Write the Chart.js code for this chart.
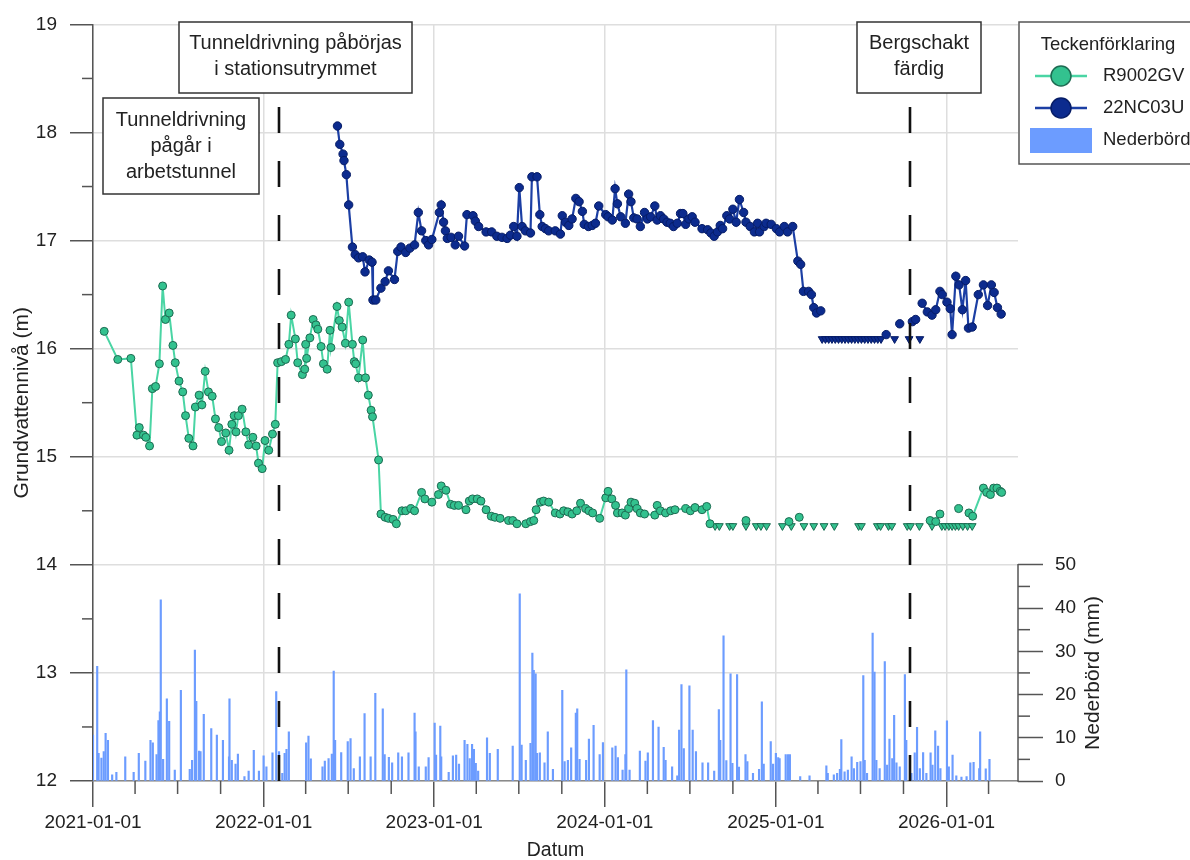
<!DOCTYPE html>
<html><head><meta charset="utf-8">
<script src="https://cdn.jsdelivr.net/npm/chart.js@4/dist/chart.umd.min.js"></script>
<style>html,body{margin:0;padding:0;background:#fff;}#wrap{width:1190px;height:860px;position:relative;}</style>
</head><body><div id="wrap"><canvas id="c"></canvas></div>
<script>
const r9002Dates = ['2021-01-25','2021-02-23','2021-03-23','2021-04-05','2021-04-10','2021-04-19','2021-04-24','2021-05-02','2021-05-08','2021-05-15','2021-05-23','2021-05-30','2021-06-05','2021-06-13','2021-06-21','2021-06-26','2021-07-04','2021-07-12','2021-07-18','2021-07-25','2021-08-03','2021-08-08','2021-08-16','2021-08-22','2021-08-29','2021-09-05','2021-09-13','2021-09-20','2021-09-27','2021-10-03','2021-10-12','2021-10-19','2021-10-25','2021-10-30','2021-11-03','2021-11-08','2021-11-16','2021-11-24','2021-11-30','2021-12-09','2021-12-16','2021-12-21','2021-12-29','2022-01-04','2022-01-12','2022-01-20','2022-01-26','2022-01-31','2022-02-08','2022-02-17','2022-02-24','2022-03-01','2022-03-10','2022-03-15','2022-03-25','2022-03-30','2022-04-01','2022-04-03','2022-04-10','2022-04-17','2022-04-23','2022-04-27','2022-05-04','2022-05-09','2022-05-17','2022-05-23','2022-05-25','2022-06-07','2022-06-12','2022-06-18','2022-06-25','2022-07-02','2022-07-10','2022-07-14','2022-07-17','2022-07-23','2022-08-01','2022-08-07','2022-08-13','2022-08-19','2022-08-22','2022-09-04','2022-09-09','2022-09-18','2022-09-25','2022-10-05','2022-10-12','2022-10-24','2022-11-01','2022-11-12','2022-11-20','2022-12-05','2022-12-12','2022-12-27','2023-01-10','2023-01-16','2023-01-26','2023-02-05','2023-02-13','2023-02-22','2023-03-10','2023-03-17','2023-03-24','2023-04-03','2023-04-11','2023-04-22','2023-05-03','2023-05-11','2023-05-22','2023-06-09','2023-06-18','2023-06-27','2023-07-16','2023-07-26','2023-08-02','2023-08-07','2023-08-16','2023-08-23','2023-09-03','2023-09-17','2023-09-27','2023-10-05','2023-10-14','2023-10-23','2023-11-02','2023-11-10','2023-11-21','2023-11-28','2023-12-06','2023-12-21','2024-01-03','2024-01-08','2024-01-16','2024-01-24','2024-01-28','2024-02-07','2024-02-14','2024-02-21','2024-02-26','2024-03-05','2024-03-10','2024-03-17','2024-03-26','2024-04-17','2024-04-22','2024-04-29','2024-05-10','2024-05-21','2024-05-30','2024-06-22','2024-07-02','2024-07-12','2024-07-27','2024-08-06','2024-08-13','2024-10-29','2025-01-29','2025-02-20','2025-11-27','2025-12-09','2025-12-18','2026-01-27','2026-02-18','2026-02-26','2026-03-21','2026-03-28','2026-04-05','2026-04-12','2026-04-19','2026-04-26','2026-04-29'];
const r9002Levels = [16.16,15.90,15.91,15.20,15.27,15.20,15.18,15.10,15.63,15.65,15.86,16.58,16.27,16.33,16.03,15.87,15.70,15.60,15.38,15.17,15.10,15.46,15.57,15.48,15.79,15.60,15.56,15.35,15.27,15.14,15.22,15.06,15.30,15.38,15.23,15.38,15.44,15.23,15.11,15.18,15.10,14.94,14.89,15.15,15.06,15.21,15.30,15.87,15.88,15.90,16.04,16.31,16.09,15.87,15.76,15.81,16.04,15.91,16.10,16.27,16.22,16.18,16.02,15.86,15.81,16.17,16.01,16.39,16.26,16.20,16.05,16.43,16.04,15.88,15.86,15.73,16.08,15.73,15.57,15.43,15.37,14.97,14.47,14.44,14.43,14.42,14.38,14.50,14.50,14.52,14.50,14.67,14.61,14.58,14.65,14.73,14.69,14.56,14.55,14.55,14.51,14.59,14.61,14.61,14.59,14.51,14.45,14.44,14.43,14.41,14.41,14.38,14.38,14.40,14.41,14.51,14.58,14.59,14.58,14.48,14.47,14.50,14.49,14.47,14.50,14.57,14.52,14.50,14.48,14.43,14.62,14.68,14.61,14.55,14.48,14.48,14.46,14.52,14.58,14.57,14.52,14.48,14.47,14.46,14.55,14.50,14.48,14.50,14.51,14.52,14.50,14.53,14.51,14.54,14.38,14.41,14.40,14.44,14.41,14.40,14.47,14.52,14.48,14.45,14.71,14.67,14.65,14.71,14.71,14.68,14.67];
const r9002LowDates = ['2024-08-24','2024-09-02','2024-09-24','2024-10-01','2024-10-29','2024-11-20','2024-11-30','2024-12-12','2025-01-15','2025-02-03','2025-03-02','2025-03-23','2025-04-14','2025-05-06','2025-06-27','2025-07-03','2025-08-06','2025-08-13','2025-08-30','2025-09-06','2025-10-09','2025-10-16','2025-11-04','2025-12-01','2025-12-22','2025-12-29','2026-01-06','2026-01-13','2026-01-20','2026-01-27','2026-02-05','2026-02-15','2026-02-25'];
const r9002LowLevel = 14.36;

const nc03uDates = ['2022-06-08','2022-06-13','2022-06-20','2022-06-22','2022-06-27','2022-07-02','2022-07-10','2022-07-16','2022-07-23','2022-08-01','2022-08-06','2022-08-15','2022-08-21','2022-08-23','2022-08-29','2022-09-09','2022-09-18','2022-09-25','2022-10-08','2022-10-15','2022-10-22','2022-11-01','2022-11-10','2022-11-20','2022-11-28','2022-12-05','2022-12-14','2022-12-20','2022-12-27','2023-01-12','2023-01-16','2023-01-21','2023-01-25','2023-01-29','2023-02-06','2023-02-15','2023-02-22','2023-03-07','2023-03-12','2023-03-25','2023-03-30','2023-04-06','2023-04-22','2023-05-04','2023-05-15','2023-05-26','2023-06-06','2023-06-13','2023-06-20','2023-06-27','2023-07-02','2023-07-08','2023-07-15','2023-07-26','2023-07-29','2023-08-09','2023-08-15','2023-08-20','2023-08-27','2023-09-03','2023-09-17','2023-09-28','2023-10-02','2023-10-09','2023-10-16','2023-10-23','2023-10-31','2023-11-07','2023-11-14','2023-11-18','2023-11-27','2023-12-05','2023-12-12','2023-12-19','2024-01-03','2024-01-08','2024-01-17','2024-01-23','2024-01-28','2024-02-04','2024-02-14','2024-02-21','2024-02-26','2024-03-03','2024-03-10','2024-03-17','2024-03-26','2024-04-01','2024-04-08','2024-04-17','2024-04-22','2024-04-29','2024-05-06','2024-05-13','2024-05-20','2024-05-27','2024-06-04','2024-06-11','2024-06-16','2024-06-22','2024-06-29','2024-07-06','2024-07-12','2024-07-27','2024-08-08','2024-08-15','2024-08-22','2024-08-29','2024-09-04','2024-09-09','2024-09-18','2024-09-24','2024-10-01','2024-10-08','2024-10-15','2024-10-24','2024-10-29','2024-11-07','2024-11-16','2024-11-23','2024-11-27','2024-12-07','2024-12-11','2024-12-22','2025-01-02','2025-01-09','2025-01-19','2025-01-26','2025-02-06','2025-02-17','2025-02-23','2025-03-01','2025-03-12','2025-03-18','2025-03-23','2025-03-29','2025-04-07','2025-08-25','2025-09-23','2025-10-20','2025-10-27','2025-11-10','2025-11-21','2025-12-01','2025-12-09','2025-12-18','2025-12-23','2026-01-02','2026-01-09','2026-01-13','2026-01-21','2026-01-28','2026-02-04','2026-02-11','2026-02-17','2026-02-25','2026-03-10','2026-03-21','2026-03-30','2026-04-07','2026-04-13','2026-04-20','2026-04-28'];
const nc03uLevels = [18.06,17.89,17.80,17.74,17.61,17.33,16.94,16.87,16.84,16.85,16.71,16.82,16.80,16.45,16.45,16.56,16.62,16.72,16.64,16.90,16.94,16.89,16.93,16.96,17.26,17.09,17.00,16.96,17.01,17.26,17.33,17.17,17.09,17.02,17.03,16.96,17.04,16.95,17.24,17.23,17.18,17.13,17.08,17.08,17.04,17.03,17.02,17.05,17.13,17.04,17.49,17.13,17.09,17.07,17.59,17.59,17.24,17.13,17.11,17.09,17.09,17.06,17.23,17.17,17.14,17.20,17.39,17.36,17.27,17.15,17.13,17.14,17.16,17.32,17.24,17.22,17.19,17.48,17.34,17.22,17.16,17.43,17.36,17.21,17.20,17.13,17.26,17.20,17.22,17.32,17.19,17.23,17.20,17.17,17.16,17.13,17.16,17.25,17.25,17.15,17.20,17.22,17.17,17.11,17.10,17.07,17.04,17.08,17.14,17.11,17.23,17.20,17.29,17.17,17.38,17.26,17.17,17.13,17.08,17.16,17.08,17.13,17.16,17.15,17.11,17.08,17.13,17.08,17.13,16.81,16.78,16.53,16.53,16.50,16.38,16.33,16.35,16.13,16.23,16.25,16.27,16.42,16.34,16.31,16.36,16.53,16.50,16.43,16.37,16.13,16.67,16.59,16.36,16.63,16.19,16.20,16.50,16.59,16.40,16.59,16.52,16.38,16.32];
const nc03uLowDates = ['2025-04-10','2025-04-17','2025-04-24','2025-05-01','2025-05-08','2025-05-15','2025-05-22','2025-05-29','2025-06-05','2025-06-12','2025-06-19','2025-06-26','2025-07-03','2025-07-10','2025-07-17','2025-07-24','2025-07-31','2025-08-07','2025-08-14','2025-09-12','2025-10-13','2025-11-05'];
const nc03uLowLevel = 16.09;

const precipDates = ['2021-01-01','2021-01-10','2021-01-13','2021-01-19','2021-01-24','2021-01-28','2021-02-02','2021-02-11','2021-02-20','2021-03-11','2021-03-29','2021-04-09','2021-04-23','2021-05-04','2021-05-09','2021-05-17','2021-05-21','2021-05-24','2021-05-26','2021-05-31','2021-06-08','2021-06-13','2021-06-25','2021-07-08','2021-07-27','2021-08-01','2021-08-07','2021-08-10','2021-08-16','2021-08-19','2021-08-26','2021-09-11','2021-09-23','2021-10-06','2021-10-19','2021-10-20','2021-10-25','2021-11-02','2021-11-07','2021-11-21','2021-11-30','2021-12-11','2021-12-22','2022-01-01','2022-01-07','2022-01-20','2022-01-28','2022-02-03','2022-02-10','2022-02-15','2022-02-19','2022-02-24','2022-04-02','2022-04-07','2022-04-12','2022-05-07','2022-05-12','2022-05-20','2022-05-27','2022-05-31','2022-06-03','2022-06-16','2022-06-30','2022-07-06','2022-07-13','2022-07-26','2022-08-05','2022-08-18','2022-08-28','2022-09-13','2022-09-17','2022-09-26','2022-10-03','2022-10-16','2022-10-24','2022-11-07','2022-11-20','2022-11-22','2022-11-29','2022-12-14','2022-12-20','2023-01-02','2023-01-05','2023-01-14','2023-01-16','2023-02-01','2023-02-10','2023-02-17','2023-02-23','2023-03-07','2023-03-13','2023-03-18','2023-03-23','2023-03-27','2023-03-31','2023-04-05','2023-04-24','2023-04-30','2023-05-17','2023-06-18','2023-07-03','2023-07-07','2023-07-16','2023-07-26','2023-07-30','2023-08-02','2023-08-06','2023-08-09','2023-08-15','2023-08-25','2023-09-01','2023-09-12','2023-10-02','2023-10-07','2023-10-14','2023-10-21','2023-10-31','2023-11-03','2023-11-08','2023-11-22','2023-11-28','2023-12-08','2023-12-21','2023-12-28','2024-01-17','2024-01-24','2024-01-29','2024-02-08','2024-02-14','2024-02-16','2024-02-23','2024-03-16','2024-03-28','2024-04-02','2024-04-13','2024-04-25','2024-05-06','2024-05-10','2024-05-24','2024-06-04','2024-06-08','2024-06-13','2024-06-18','2024-06-30','2024-07-07','2024-07-14','2024-07-28','2024-08-09','2024-08-22','2024-09-01','2024-09-04','2024-09-11','2024-09-17','2024-09-26','2024-09-30','2024-10-10','2024-10-14','2024-10-28','2024-11-01','2024-11-13','2024-11-26','2024-12-02','2024-12-06','2024-12-21','2024-12-26','2025-01-01','2025-01-06','2025-01-09','2025-01-22','2025-01-27','2025-01-31','2025-02-22','2025-03-14','2025-04-19','2025-04-22','2025-05-05','2025-05-12','2025-05-18','2025-05-21','2025-05-28','2025-06-04','2025-06-12','2025-06-17','2025-06-24','2025-07-01','2025-07-07','2025-07-10','2025-07-15','2025-07-27','2025-07-31','2025-08-04','2025-08-11','2025-08-22','2025-08-27','2025-09-01','2025-09-07','2025-09-11','2025-09-16','2025-09-23','2025-10-04','2025-10-07','2025-10-18','2025-10-25','2025-10-30','2025-11-05','2025-11-12','2025-11-19','2025-11-28','2025-12-02','2025-12-08','2025-12-14','2025-12-19','2026-01-02','2026-01-06','2026-01-14','2026-01-22','2026-02-02','2026-02-13','2026-02-21','2026-02-28','2026-03-12','2026-03-14','2026-03-26','2026-04-03'];
const precipMm = [10.6,26.5,6.4,5.3,6.8,11,9.4,1.4,2.0,5.6,2.0,6.4,4.6,9.4,8.8,6.1,14,16,41.9,5.0,19,13.8,2.5,21,2.7,4.8,30.3,18.4,6.9,6.8,15.4,12.1,10.6,9.4,5.6,19,4.8,3.9,6.2,1.0,2.3,7.1,2.3,5.8,3.3,6.5,20.7,6.8,1.8,6.4,7.3,11.4,8.8,10.4,5.1,3.3,4.6,5.2,6.2,25.4,9.4,6.6,9.1,9.8,2.9,5.6,15.6,5.6,20.3,16.7,6.1,5.5,4.2,6.5,5.6,6.5,15.7,11.4,3.3,3.3,5.4,13.4,6.0,12.7,5.6,2.0,5.8,6.0,3.9,9.4,8.5,5.2,8.5,7.3,4.1,2.3,10.0,6.4,7.3,8.1,43.3,8.3,4.8,8.7,29.6,25.6,24.8,6.4,6.5,4.2,11.4,2.7,21,4.5,4.8,7.7,15.7,16.7,5.0,4.8,9.7,12.9,6.1,8.9,7.7,8.1,5.4,2.5,6.1,25.7,2.5,6.9,4.6,6.5,14,12.5,7.8,4.8,3.3,1.2,11.8,22.3,7.5,22,11.8,6.8,4.2,4.2,2.3,16.5,9.4,33.6,4.7,24.8,4.1,24.6,3.2,6.1,4.5,1.8,2.7,18.3,3.9,9.1,3.9,6.4,5.4,5.2,6.1,6.1,6.1,1.0,1.2,3.5,1.8,1.4,1.8,2.7,9.6,2.1,2.5,5.6,2.9,4.3,4.5,24.4,4.8,1.8,34.2,25.2,4.8,2.9,27.6,3.7,9.7,5.2,15.2,4.2,3.3,24.6,9.4,1.8,6.5,12.4,2.9,6.6,1.8,6.5,3.7,11.6,8.1,2.9,13.9,3.3,6.0,1.2,0.9,1.0,4.2,4.3,2.9,11.4,2.8,5.0];

const eventDates = ['2022-02-03','2025-10-14'];
const yearTicks = ['2021-01-01','2022-01-01','2023-01-01','2024-01-01','2025-01-01','2026-01-01'];
const quarterTicks = ['2021-04-01','2021-07-01','2021-10-01','2022-04-01','2022-07-01','2022-10-01','2023-04-01','2023-07-01','2023-10-01','2024-04-01','2024-07-01','2024-10-01','2025-04-01','2025-07-01','2025-10-01','2026-04-01'];
const levelTicks = [12,13,14,15,16,17,18,19];
const levelMinorTicks = [12.5,13.5,14.5,15.5,16.5,17.5,18.5];
const precipTicks = [0,10,20,30,40,50];
const precipMinorTicks = [5,15,25,35,45];

const FONT = '"Liberation Sans", Arial, Helvetica, sans-serif';
const toMs = s => { const p = s.split('-').map(Number); return Date.UTC(p[0], p[1]-1, p[2]); };
const fmt = ms => new Date(ms).toISOString().slice(0,10);

function lineData(dates, levels, lowDates) {
  const pts = dates.map((d,i)=>({x: toMs(d), y: levels[i]}));
  lowDates.forEach(d => pts.push({x: toMs(d), y: null}));
  pts.sort((a,b)=> (a.x-b.x) || ((a.y===null)-(b.y===null)));
  return pts;
}
const lowData = (dates, lvl) => dates.map(d=>({x: toMs(d), y: lvl}));

const GREEN_LINE = '#4ad5a4', GREEN_FILL = '#33c28f', GREEN_EDGE = '#1d6b52';
const BLUE_LINE = '#1c3fa4', BLUE_FILL = '#0c2b8e', BLUE_EDGE = '#061c66';
const RAIN = '#6c9cff';

const decor = {
  id: 'decor',
  afterDatasetsDraw(chart) {
    const {ctx, chartArea: ca, scales: {x}} = chart;
    ctx.save();
    ctx.strokeStyle = '#111'; ctx.lineWidth = 2.6; ctx.setLineDash([26, 28]);
    eventDates.forEach(d => {
      const px = Math.round(x.getPixelForValue(toMs(d)));
      ctx.beginPath(); ctx.moveTo(px, ca.bottom); ctx.lineTo(px, ca.top); ctx.stroke();
    });
    ctx.restore();
  },
  afterDraw(chart) {
    const {ctx, chartArea: ca, scales: {x, y, y2}} = chart;
    const seg = (x0,y0,x1,y1) => { ctx.beginPath(); ctx.moveTo(x0,y0); ctx.lineTo(x1,y1); ctx.stroke(); };
    ctx.save();
    ctx.strokeStyle = '#555'; ctx.lineWidth = 1.5;
    quarterTicks.forEach(d => { const px = x.getPixelForValue(toMs(d)); seg(px, ca.bottom, px, ca.bottom + 13); });
    levelMinorTicks.forEach(v => { const py = y.getPixelForValue(v); seg(ca.left - 11, py, ca.left, py); });
    precipMinorTicks.forEach(v => { const py = y2.getPixelForValue(v); seg(ca.right, py, ca.right + 12, py); });
    seg(ca.right, y2.getPixelForValue(0) + 0.75, ca.right, y2.getPixelForValue(50) - 0.75);

    ctx.fillStyle = '#222';
    ctx.font = '21px ' + FONT; ctx.textAlign = 'center'; ctx.textBaseline = 'middle';
    ctx.save();
    ctx.translate(1093, (y2.getPixelForValue(0) + y2.getPixelForValue(50)) / 2);
    ctx.rotate(-Math.PI/2);
    ctx.fillText('Nederbörd (mm)', 0, 0);
    ctx.restore();

    const box = (x0,y0,x1,y1,lines,ys) => {
      ctx.fillStyle = '#fff'; ctx.fillRect(x0,y0,x1-x0,y1-y0);
      ctx.strokeStyle = '#333'; ctx.lineWidth = 1.5; ctx.strokeRect(x0,y0,x1-x0,y1-y0);
      ctx.fillStyle = '#222'; ctx.font = '20px ' + FONT; ctx.textAlign = 'center'; ctx.textBaseline = 'middle';
      lines.forEach((t,i) => ctx.fillText(t, (x0+x1)/2, ys[i]));
    };
    box(103, 98, 259, 194, ['Tunneldrivning','pågår i','arbetstunnel'], [120, 146, 172]);
    box(179, 22, 412, 93, ['Tunneldrivning påbörjas','i stationsutrymmet'], [43, 69]);
    box(857, 22, 981, 93, ['Bergschakt','färdig'], [43, 69]);

    ctx.fillStyle = '#fff'; ctx.fillRect(1019, 22, 180, 142);
    ctx.strokeStyle = '#555'; ctx.lineWidth = 1.5; ctx.strokeRect(1019, 22, 180, 142);
    ctx.fillStyle = '#222'; ctx.font = '18.5px ' + FONT; ctx.textAlign = 'center'; ctx.textBaseline = 'middle';
    ctx.fillText('Teckenförklaring', 1108, 45);
    const entry = (yy, line, fill, edge, label) => {
      ctx.strokeStyle = line; ctx.lineWidth = 2.5; seg(1035, yy, 1087, yy);
      ctx.beginPath(); ctx.arc(1061, yy, 10, 0, Math.PI*2); ctx.fillStyle = fill; ctx.fill();
      ctx.strokeStyle = edge; ctx.lineWidth = 1.5; ctx.stroke();
      ctx.fillStyle = '#222'; ctx.textAlign = 'left'; ctx.fillText(label, 1103, yy);
    };
    entry(76, GREEN_LINE, GREEN_FILL, GREEN_EDGE, 'R9002GV');
    entry(108, BLUE_LINE, BLUE_FILL, BLUE_EDGE, '22NC03U');
    ctx.fillStyle = RAIN; ctx.fillRect(1030, 128, 62, 25);
    ctx.fillStyle = '#222'; ctx.textAlign = 'left'; ctx.fillText('Nederbörd', 1103, 140);
    ctx.restore();
  }
};

new Chart(document.getElementById('c'), {
  type: 'line',
  data: {
    datasets: [
      { label: 'R9002GV', data: lineData(r9002Dates, r9002Levels, r9002LowDates), yAxisID: 'y',
        borderColor: GREEN_LINE, borderWidth: 2, pointRadius: 4, pointBackgroundColor: GREEN_FILL,
        pointBorderColor: GREEN_EDGE, pointBorderWidth: 1, spanGaps: false, tension: 0, order: 2 },
      { label: 'R9002GV <', data: lowData(r9002LowDates, r9002LowLevel), yAxisID: 'y', showLine: false,
        pointStyle: 'triangle', rotation: 180, pointRadius: 4.5, pointBackgroundColor: GREEN_FILL,
        pointBorderColor: GREEN_EDGE, pointBorderWidth: 1, order: 2 },
      { label: '22NC03U', data: lineData(nc03uDates, nc03uLevels, nc03uLowDates), yAxisID: 'y',
        borderColor: BLUE_LINE, borderWidth: 2.2, pointRadius: 4.2, pointBackgroundColor: BLUE_FILL,
        pointBorderColor: BLUE_EDGE, pointBorderWidth: 1, spanGaps: false, tension: 0, order: 1 },
      { label: '22NC03U <', data: lowData(nc03uLowDates, nc03uLowLevel), yAxisID: 'y', showLine: false,
        pointStyle: 'triangle', rotation: 180, pointRadius: 4.5, pointBackgroundColor: BLUE_FILL,
        pointBorderColor: BLUE_EDGE, pointBorderWidth: 1, order: 1 },
      { type: 'bar', label: 'Nederbörd', data: precipDates.map((d,i)=>({x: toMs(d), y: precipMm[i]})),
        yAxisID: 'y2', backgroundColor: RAIN, barThickness: 1.5, order: 10 }
    ]
  },
  options: {
    responsive: true, maintainAspectRatio: false, animation: false, events: [],
    layout: { padding: { top: 22, left: 0, right: 0, bottom: 0 } },
    plugins: { legend: { display: false }, tooltip: { enabled: false } },
    scales: {
      x: {
        type: 'linear', min: toMs('2021-01-01'), max: toMs('2026-06-03'), offset: false,
        afterBuildTicks: s => { s.ticks = yearTicks.map(d => ({value: toMs(d)})); },
        afterFit: s => { s.height = 79; },
        ticks: { callback: v => fmt(v), font: {family: FONT, size: 19}, color: '#222', padding: 4, maxRotation: 0, autoSkip: false },
        grid: { color: '#dedede', lineWidth: 1.5, tickLength: 26, tickColor: '#555', tickWidth: 1.5, offset: false },
        border: { color: '#8a8a8a', width: 1.5 },
        title: { display: true, text: 'Datum', font: {family: FONT, size: 19.5, lineHeight: 1}, color: '#222', padding: {top: 0, bottom: 0} }
      },
      y: {
        position: 'left', min: 12, max: 19,
        afterBuildTicks: s => { s.ticks = levelTicks.map(v => ({value: v})); },
        afterFit: s => { s.width = 93; },
        ticks: { font: {family: FONT, size: 19}, color: '#222', padding: 13 },
        grid: { color: '#dedede', lineWidth: 1.5, tickLength: 23, tickColor: '#555', tickWidth: 1.5 },
        border: { color: '#555', width: 1.5 },
        title: { display: true, text: 'Grundvattennivå (m)', font: {family: FONT, size: 21, lineHeight: 1}, color: '#222', padding: {top: 12, bottom: 0} }
      },
      y2: {
        position: 'right', min: 0, max: 175,
        afterBuildTicks: s => { s.ticks = precipTicks.map(v => ({value: v})); },
        afterFit: s => { s.width = 172; },
        ticks: { font: {family: FONT, size: 19}, color: '#222', padding: 12 },
        grid: { drawOnChartArea: false, tickLength: 25, tickColor: '#555', tickWidth: 1.5 },
        border: { display: false }
      }
    }
  },
  plugins: [decor]
});
</script></body></html>
